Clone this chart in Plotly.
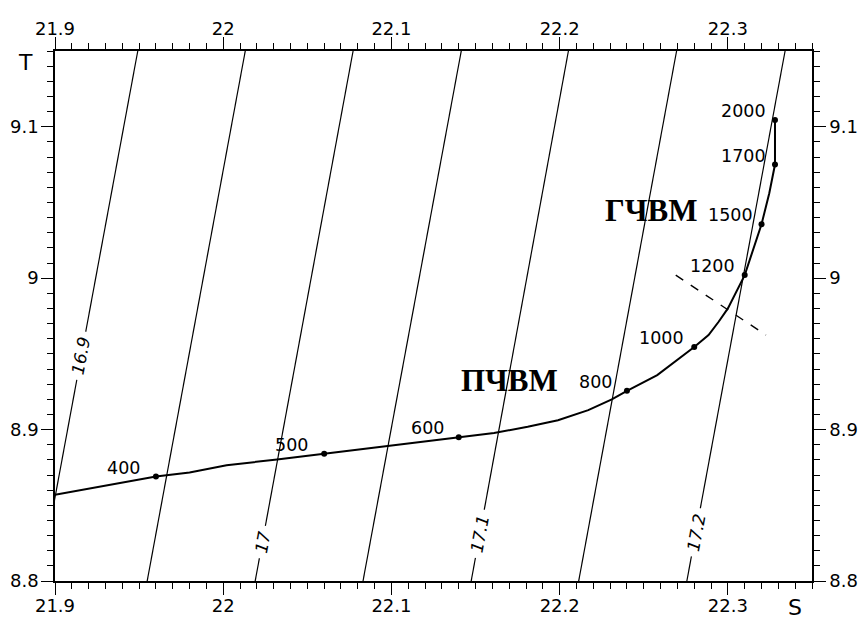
import plotly.graph_objects as go

# ---- data ----
# isopycnals (sigma levels) : salinity where each line crosses T=8.8 and T=9.15
iso_levels = [16.9, 16.95, 17.0, 17.05, 17.1, 17.15, 17.2]
iso_s_bottom = [21.8908, 21.9548, 22.019, 22.0831, 22.1474, 22.2113, 22.2756]
iso_s_top = [21.9492, 22.0131, 22.0772, 22.1415, 22.2052, 22.2695, 22.334]
iso_t_bottom = 8.8
iso_t_top = 9.15
iso_label_text = ["16.9", "17", "17.1", "17.2"]
iso_label_level_idx = [0, 2, 4, 6]
iso_label_t = [8.949, 8.826, 8.831, 8.832]

# T-S curve
curve_s = [21.9, 21.96, 21.98, 22.002, 22.032, 22.06, 22.097, 22.14, 22.161, 22.181,
           22.199, 22.217, 22.231, 22.24, 22.258, 22.28, 22.2885, 22.2945, 22.30,
           22.31, 22.32, 22.3246, 22.328, 22.328]
curve_t = [8.857, 8.869, 8.8716, 8.8765, 8.8802, 8.884, 8.8892, 8.895, 8.8978, 8.9018,
           8.9062, 8.9128, 8.9199, 8.9256, 8.936, 8.9545, 8.9624, 8.9712, 8.98,
           9.002, 9.0356, 9.0561, 9.075, 9.1045]

# depth points
depths = [400, 500, 600, 800, 1000, 1200, 1500, 1700, 2000]
depth_s = [21.96, 22.06, 22.14, 22.24, 22.28, 22.31, 22.32, 22.328, 22.328]
depth_t = [8.869, 8.884, 8.895, 8.9256, 8.9545, 9.002, 9.0356, 9.075, 9.1045]
depth_label_dx = [-14, -14, -13, -13, -8, -8, -7, -7, -7]

# dashed boundary line
dash_s = [22.269, 22.3226]
dash_t = [9.002, 8.9624]

# water mass labels
wm_text = ["ПЧВМ", "ГЧВМ"]
wm_s = [22.1702, 22.2542]
wm_t = [8.9327, 9.045]

x_range = [21.9, 22.35]
y_range = [8.8, 9.15]

fig = go.Figure()

for sb, st in zip(iso_s_bottom, iso_s_top):
    fig.add_trace(go.Scatter(x=[sb, st], y=[iso_t_bottom, iso_t_top], mode="lines",
                             line=dict(color="black", width=1.2), hoverinfo="skip",
                             showlegend=False))

fig.add_trace(go.Scatter(x=dash_s, y=dash_t, mode="lines",
                         line=dict(color="black", width=1.4, dash="dash"),
                         showlegend=False))

fig.add_trace(go.Scatter(x=curve_s, y=curve_t, mode="lines",
                         line=dict(color="black", width=2), showlegend=False))
fig.add_trace(go.Scatter(x=depth_s, y=depth_t, mode="markers",
                         marker=dict(color="black", size=6), showlegend=False))

# invisible trace for top/right axes
fig.add_trace(go.Scatter(x=x_range, y=y_range, xaxis="x2", yaxis="y2", mode="markers",
                         marker=dict(opacity=0), showlegend=False, hoverinfo="skip"))

slope = [(st - sb) / (iso_t_top - iso_t_bottom) for sb, st in zip(iso_s_bottom, iso_s_top)]

for txt, idx, t in zip(iso_label_text, iso_label_level_idx, iso_label_t):
    s = iso_s_bottom[idx] + slope[idx] * (t - iso_t_bottom)
    fig.add_annotation(x=s, y=t, text=txt, showarrow=False, textangle=-79.5,
                       font=dict(family="DejaVu Sans", size=17, color="black",
                                 style="italic"),
                       bgcolor="white", borderpad=5)

for d, s, t, dx in zip(depths, depth_s, depth_t, depth_label_dx):
    fig.add_annotation(x=s, y=t, text=str(d), showarrow=False, xanchor="right",
                       yanchor="middle", xshift=dx, yshift=9,
                       font=dict(family="DejaVu Sans", size=17.5, color="black"))

for txt, s, t in zip(wm_text, wm_s, wm_t):
    fig.add_annotation(x=s, y=t, text="<b>" + txt + "</b>", showarrow=False,
                       font=dict(family="Liberation Serif", size=31, color="black"))

fig.add_annotation(xref="paper", yref="paper", x=-0.0396, y=0.9787, text="T",
                   xanchor="center", yanchor="middle",
                   showarrow=False, font=dict(family="DejaVu Sans", size=22, color="black"))
fig.add_annotation(xref="paper", yref="paper", x=0.978, y=-0.05, text="S",
                   xanchor="center", yanchor="middle",
                   showarrow=False, font=dict(family="DejaVu Sans", size=22, color="black"))

tickfont = dict(family="DejaVu Sans", size=18, color="black")


def axis_x(standoff):
    return dict(range=x_range, dtick=0.1, tick0=21.9, ticks="outside", ticklen=12,
                tickwidth=1.3, tickcolor="black", showgrid=False, zeroline=False,
                showline=True, linecolor="black", linewidth=1.5, tickfont=tickfont,
                automargin=False, ticklabelstandoff=standoff,
                minor=dict(dtick=0.01, tick0=21.9, ticks="outside", ticklen=6,
                           tickwidth=1.2, tickcolor="black", showgrid=False))


def axis_y(standoff):
    return dict(range=y_range, dtick=0.1, tick0=8.8, ticks="outside", ticklen=12,
                tickwidth=1.3, tickcolor="black", showgrid=False, zeroline=False,
                showline=True, linecolor="black", linewidth=1.5, tickfont=tickfont,
                automargin=False, ticklabelstandoff=standoff,
                minor=dict(dtick=0.01, tick0=8.8, ticks="outside", ticklen=6,
                           tickwidth=1.2, tickcolor="black", showgrid=False))


fig.update_layout(
    width=859, height=619,
    margin=dict(l=55, r=47, t=51, b=38, pad=0, autoexpand=False),
    paper_bgcolor="white", plot_bgcolor="white",
    xaxis=dict(side="bottom", anchor="y", **axis_x(-4)),
    xaxis2=dict(side="top", overlaying="x", anchor="y", **axis_x(-5)),
    yaxis=dict(side="left", anchor="x", **axis_y(-1)),
    yaxis2=dict(side="right", overlaying="y", anchor="x", **axis_y(0)),
    showlegend=False,
)

fig.write_html("out.html",
               config={"displayModeBar": False},
               post_script="document.body.style.margin='0px';"
                           "document.body.style.overflow='hidden';")
